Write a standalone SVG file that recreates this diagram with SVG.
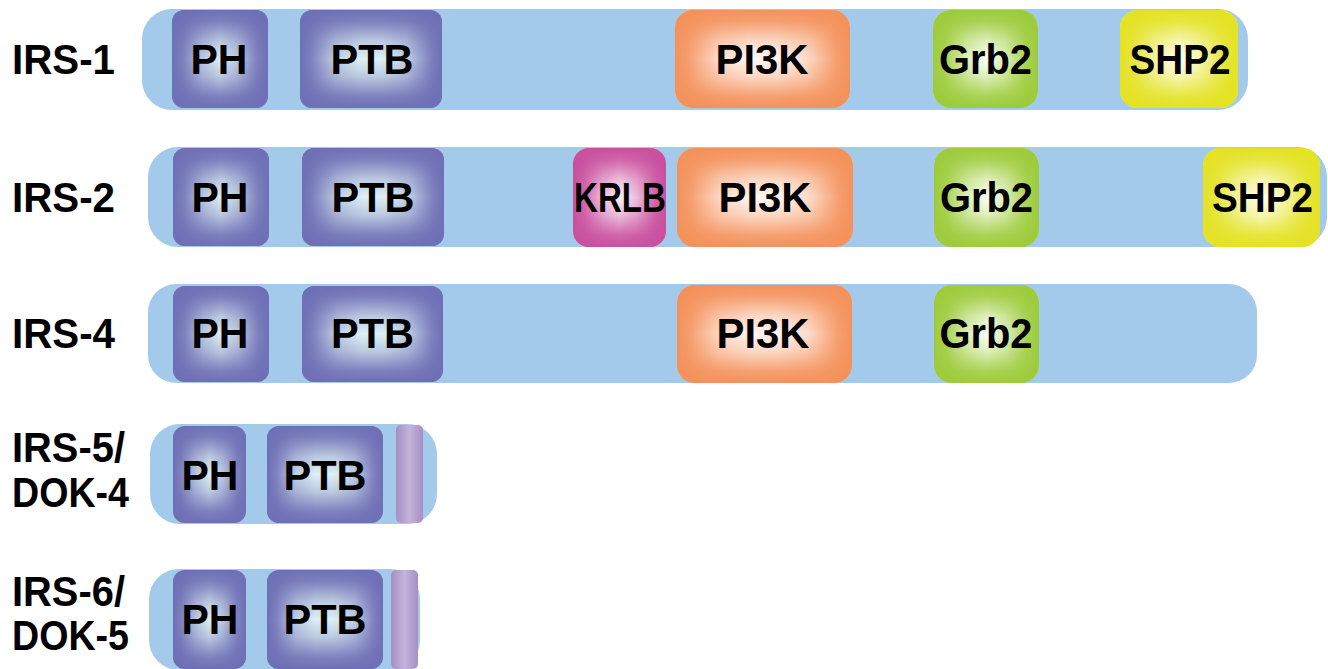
<svg xmlns="http://www.w3.org/2000/svg" width="1328" height="669" viewBox="0 0 1328 669">
<defs>
<linearGradient id="puH"><stop offset="0" stop-color="#6e6fb5"/><stop offset="0.12" stop-color="#6e6fb5" stop-opacity="0.85"/><stop offset="0.32" stop-color="#6e6fb5" stop-opacity="0.3"/><stop offset="0.5" stop-color="#6e6fb5" stop-opacity="0"/><stop offset="0.68" stop-color="#6e6fb5" stop-opacity="0.3"/><stop offset="0.88" stop-color="#6e6fb5" stop-opacity="0.85"/><stop offset="1" stop-color="#6e6fb5"/></linearGradient>
<linearGradient id="puW"><stop offset="0" stop-color="#6e6fb5"/><stop offset="0.08" stop-color="#6e6fb5" stop-opacity="0.85"/><stop offset="0.25" stop-color="#6e6fb5" stop-opacity="0.25"/><stop offset="0.42" stop-color="#6e6fb5" stop-opacity="0"/><stop offset="0.58" stop-color="#6e6fb5" stop-opacity="0"/><stop offset="0.75" stop-color="#6e6fb5" stop-opacity="0.25"/><stop offset="0.92" stop-color="#6e6fb5" stop-opacity="0.85"/><stop offset="1" stop-color="#6e6fb5"/></linearGradient>
<linearGradient id="puV" x2="0" y2="1"><stop offset="0" stop-color="#6e6fb5"/><stop offset="0.12" stop-color="#6e6fb5" stop-opacity="0.85"/><stop offset="0.32" stop-color="#6e6fb5" stop-opacity="0.3"/><stop offset="0.5" stop-color="#6e6fb5" stop-opacity="0"/><stop offset="0.68" stop-color="#6e6fb5" stop-opacity="0.3"/><stop offset="0.88" stop-color="#6e6fb5" stop-opacity="0.85"/><stop offset="1" stop-color="#6e6fb5"/></linearGradient>

<linearGradient id="orW"><stop offset="0" stop-color="#f4915a"/><stop offset="0.08" stop-color="#f4915a" stop-opacity="0.85"/><stop offset="0.25" stop-color="#f4915a" stop-opacity="0.25"/><stop offset="0.42" stop-color="#f4915a" stop-opacity="0"/><stop offset="0.58" stop-color="#f4915a" stop-opacity="0"/><stop offset="0.75" stop-color="#f4915a" stop-opacity="0.25"/><stop offset="0.92" stop-color="#f4915a" stop-opacity="0.85"/><stop offset="1" stop-color="#f4915a"/></linearGradient>
<linearGradient id="orV" x2="0" y2="1"><stop offset="0" stop-color="#f4915a"/><stop offset="0.12" stop-color="#f4915a" stop-opacity="0.85"/><stop offset="0.32" stop-color="#f4915a" stop-opacity="0.3"/><stop offset="0.5" stop-color="#f4915a" stop-opacity="0"/><stop offset="0.68" stop-color="#f4915a" stop-opacity="0.3"/><stop offset="0.88" stop-color="#f4915a" stop-opacity="0.85"/><stop offset="1" stop-color="#f4915a"/></linearGradient>

<linearGradient id="grH"><stop offset="0" stop-color="#9dcb3b"/><stop offset="0.12" stop-color="#9dcb3b" stop-opacity="0.85"/><stop offset="0.32" stop-color="#9dcb3b" stop-opacity="0.3"/><stop offset="0.5" stop-color="#9dcb3b" stop-opacity="0"/><stop offset="0.68" stop-color="#9dcb3b" stop-opacity="0.3"/><stop offset="0.88" stop-color="#9dcb3b" stop-opacity="0.85"/><stop offset="1" stop-color="#9dcb3b"/></linearGradient>
<linearGradient id="grV" x2="0" y2="1"><stop offset="0" stop-color="#9dcb3b"/><stop offset="0.12" stop-color="#9dcb3b" stop-opacity="0.85"/><stop offset="0.32" stop-color="#9dcb3b" stop-opacity="0.3"/><stop offset="0.5" stop-color="#9dcb3b" stop-opacity="0"/><stop offset="0.68" stop-color="#9dcb3b" stop-opacity="0.3"/><stop offset="0.88" stop-color="#9dcb3b" stop-opacity="0.85"/><stop offset="1" stop-color="#9dcb3b"/></linearGradient>

<linearGradient id="yeH"><stop offset="0" stop-color="#e3e222"/><stop offset="0.12" stop-color="#e3e222" stop-opacity="0.85"/><stop offset="0.32" stop-color="#e3e222" stop-opacity="0.3"/><stop offset="0.5" stop-color="#e3e222" stop-opacity="0"/><stop offset="0.68" stop-color="#e3e222" stop-opacity="0.3"/><stop offset="0.88" stop-color="#e3e222" stop-opacity="0.85"/><stop offset="1" stop-color="#e3e222"/></linearGradient>
<linearGradient id="yeV" x2="0" y2="1"><stop offset="0" stop-color="#e3e222"/><stop offset="0.12" stop-color="#e3e222" stop-opacity="0.85"/><stop offset="0.32" stop-color="#e3e222" stop-opacity="0.3"/><stop offset="0.5" stop-color="#e3e222" stop-opacity="0"/><stop offset="0.68" stop-color="#e3e222" stop-opacity="0.3"/><stop offset="0.88" stop-color="#e3e222" stop-opacity="0.85"/><stop offset="1" stop-color="#e3e222"/></linearGradient>

<linearGradient id="maH"><stop offset="0" stop-color="#c94f9f"/><stop offset="0.12" stop-color="#c94f9f" stop-opacity="0.85"/><stop offset="0.32" stop-color="#c94f9f" stop-opacity="0.3"/><stop offset="0.5" stop-color="#c94f9f" stop-opacity="0"/><stop offset="0.68" stop-color="#c94f9f" stop-opacity="0.3"/><stop offset="0.88" stop-color="#c94f9f" stop-opacity="0.85"/><stop offset="1" stop-color="#c94f9f"/></linearGradient>
<linearGradient id="maV" x2="0" y2="1"><stop offset="0" stop-color="#c94f9f"/><stop offset="0.12" stop-color="#c94f9f" stop-opacity="0.85"/><stop offset="0.32" stop-color="#c94f9f" stop-opacity="0.3"/><stop offset="0.5" stop-color="#c94f9f" stop-opacity="0"/><stop offset="0.68" stop-color="#c94f9f" stop-opacity="0.3"/><stop offset="0.88" stop-color="#c94f9f" stop-opacity="0.85"/><stop offset="1" stop-color="#c94f9f"/></linearGradient>

<linearGradient id="laH"><stop offset="0" stop-color="#a68fc3"/><stop offset="0.5" stop-color="#c4b3dc"/><stop offset="1" stop-color="#a68fc3"/></linearGradient>
</defs>
<style>
.bar{fill:#a3c9eb}
.lbl{font-family:"Liberation Sans",Arial,sans-serif;font-weight:bold;font-size:43px;fill:#000}
.dt{font-family:"Liberation Sans",Arial,sans-serif;font-weight:bold;font-size:43px;fill:#000;text-anchor:middle}
.pu{fill:#ddf0f3}
.or{fill:#fff6f2}
.gr{fill:#fbfff5}
.ye{fill:#fffff4}
.ma{fill:#fbf0f6}
</style>

<g id="labels">
<text class="lbl" x="12" y="74" textLength="103" lengthAdjust="spacingAndGlyphs">IRS-1</text>
<text class="lbl" x="12" y="212" textLength="103" lengthAdjust="spacingAndGlyphs">IRS-2</text>
<text class="lbl" x="12" y="348" textLength="103" lengthAdjust="spacingAndGlyphs">IRS-4</text>
<text class="lbl" x="12" y="462" textLength="113" lengthAdjust="spacingAndGlyphs">IRS-5/</text>
<text class="lbl" x="12" y="507" textLength="117" lengthAdjust="spacingAndGlyphs">DOK-4</text>
<text class="lbl" x="12" y="606" textLength="113" lengthAdjust="spacingAndGlyphs">IRS-6/</text>
<text class="lbl" x="12" y="650" textLength="117" lengthAdjust="spacingAndGlyphs">DOK-5</text>
</g>

<g id="connectors"></g>

<!-- Row 1: IRS-1 -->
<g id="irs1">
<rect class="bar" x="142" y="9" width="1106" height="101" rx="30"/>
<g id="irs1-ph"><rect class="pu" x="172" y="10" width="96" height="98" rx="12"/><rect fill="url(#puH)" x="172" y="10" width="96" height="98" rx="12"/><rect fill="url(#puV)" x="172" y="10" width="96" height="98" rx="12"/><text class="dt" x="219" y="74" textLength="57" lengthAdjust="spacingAndGlyphs">PH</text></g>
<g id="irs1-ptb"><rect class="pu" x="300" y="10" width="142" height="98" rx="12"/><rect fill="url(#puW)" x="300" y="10" width="142" height="98" rx="12"/><rect fill="url(#puV)" x="300" y="10" width="142" height="98" rx="12"/><text class="dt" x="372" y="74" textLength="83" lengthAdjust="spacingAndGlyphs">PTB</text></g>
<g id="irs1-pi3k"><rect class="or" x="675" y="10" width="175" height="98" rx="18"/><rect fill="url(#orW)" x="675" y="10" width="175" height="98" rx="18"/><rect fill="url(#orV)" x="675" y="10" width="175" height="98" rx="18"/><text class="dt" x="762" y="74" textLength="93" lengthAdjust="spacingAndGlyphs">PI3K</text></g>
<g id="irs1-grb2"><rect class="gr" x="933" y="10" width="105" height="98" rx="18"/><rect fill="url(#grH)" x="933" y="10" width="105" height="98" rx="18"/><rect fill="url(#grV)" x="933" y="10" width="105" height="98" rx="18"/><text class="dt" x="985.5" y="74" textLength="93" lengthAdjust="spacingAndGlyphs">Grb2</text></g>
<g id="irs1-shp2"><rect class="ye" x="1120" y="10" width="118" height="98" rx="18"/><rect fill="url(#yeH)" x="1120" y="10" width="118" height="98" rx="18"/><rect fill="url(#yeV)" x="1120" y="10" width="118" height="98" rx="18"/><text class="dt" x="1180" y="74" textLength="101" lengthAdjust="spacingAndGlyphs">SHP2</text></g>
</g>

<!-- Row 2: IRS-2 -->
<g id="irs2">
<rect class="bar" x="148" y="147" width="1179" height="100" rx="30"/>
<g id="irs2-ph"><rect class="pu" x="173" y="148" width="96" height="98" rx="12"/><rect fill="url(#puH)" x="173" y="148" width="96" height="98" rx="12"/><rect fill="url(#puV)" x="173" y="148" width="96" height="98" rx="12"/><text class="dt" x="220" y="212" textLength="57" lengthAdjust="spacingAndGlyphs">PH</text></g>
<g id="irs2-ptb"><rect class="pu" x="302" y="148" width="142" height="98" rx="12"/><rect fill="url(#puW)" x="302" y="148" width="142" height="98" rx="12"/><rect fill="url(#puV)" x="302" y="148" width="142" height="98" rx="12"/><text class="dt" x="373" y="212" textLength="83" lengthAdjust="spacingAndGlyphs">PTB</text></g>
<g id="irs2-krlb"><rect class="ma" x="573" y="148" width="93" height="99" rx="16"/><rect fill="url(#maH)" x="573" y="148" width="93" height="99" rx="16"/><rect fill="url(#maV)" x="573" y="148" width="93" height="99" rx="16"/><text class="dt" x="620" y="212" textLength="92" lengthAdjust="spacingAndGlyphs">KRLB</text></g>
<g id="irs2-pi3k"><rect class="or" x="677" y="148" width="176" height="99" rx="18"/><rect fill="url(#orW)" x="677" y="148" width="176" height="99" rx="18"/><rect fill="url(#orV)" x="677" y="148" width="176" height="99" rx="18"/><text class="dt" x="765" y="212" textLength="93" lengthAdjust="spacingAndGlyphs">PI3K</text></g>
<g id="irs2-grb2"><rect class="gr" x="934" y="148" width="105" height="99" rx="18"/><rect fill="url(#grH)" x="934" y="148" width="105" height="99" rx="18"/><rect fill="url(#grV)" x="934" y="148" width="105" height="99" rx="18"/><text class="dt" x="986.5" y="212" textLength="93" lengthAdjust="spacingAndGlyphs">Grb2</text></g>
<g id="irs2-shp2"><rect class="ye" x="1203" y="148" width="117" height="99" rx="18"/><rect fill="url(#yeH)" x="1203" y="148" width="117" height="99" rx="18"/><rect fill="url(#yeV)" x="1203" y="148" width="117" height="99" rx="18"/><text class="dt" x="1262.5" y="212" textLength="101" lengthAdjust="spacingAndGlyphs">SHP2</text></g>
</g>

<!-- Row 3: IRS-4 -->
<g id="irs4">
<rect class="bar" x="148" y="284" width="1109" height="99" rx="28"/>
<g id="irs4-ph"><rect class="pu" x="173" y="286" width="96" height="96" rx="12"/><rect fill="url(#puH)" x="173" y="286" width="96" height="96" rx="12"/><rect fill="url(#puV)" x="173" y="286" width="96" height="96" rx="12"/><text class="dt" x="220" y="348" textLength="57" lengthAdjust="spacingAndGlyphs">PH</text></g>
<g id="irs4-ptb"><rect class="pu" x="302" y="286" width="141" height="96" rx="12"/><rect fill="url(#puW)" x="302" y="286" width="141" height="96" rx="12"/><rect fill="url(#puV)" x="302" y="286" width="141" height="96" rx="12"/><text class="dt" x="372.5" y="348" textLength="83" lengthAdjust="spacingAndGlyphs">PTB</text></g>
<g id="irs4-pi3k"><rect class="or" x="677" y="285" width="175" height="98" rx="18"/><rect fill="url(#orW)" x="677" y="285" width="175" height="98" rx="18"/><rect fill="url(#orV)" x="677" y="285" width="175" height="98" rx="18"/><text class="dt" x="763" y="348" textLength="93" lengthAdjust="spacingAndGlyphs">PI3K</text></g>
<g id="irs4-grb2"><rect class="gr" x="934" y="285" width="105" height="98" rx="18"/><rect fill="url(#grH)" x="934" y="285" width="105" height="98" rx="18"/><rect fill="url(#grV)" x="934" y="285" width="105" height="98" rx="18"/><text class="dt" x="986" y="348" textLength="93" lengthAdjust="spacingAndGlyphs">Grb2</text></g>
</g>

<!-- Row 4: IRS-5/DOK-4 -->
<g id="irs5">
<rect class="bar" x="150" y="424" width="287" height="100" rx="30"/>
<g id="irs5-ph"><rect class="pu" x="173" y="426" width="73" height="97" rx="12"/><rect fill="url(#puH)" x="173" y="426" width="73" height="97" rx="12"/><rect fill="url(#puV)" x="173" y="426" width="73" height="97" rx="12"/><text class="dt" x="210" y="490" textLength="57" lengthAdjust="spacingAndGlyphs">PH</text></g>
<g id="irs5-ptb"><rect class="pu" x="267" y="426" width="116" height="97" rx="12"/><rect fill="url(#puW)" x="267" y="426" width="116" height="97" rx="12"/><rect fill="url(#puV)" x="267" y="426" width="116" height="97" rx="12"/><text class="dt" x="325" y="490" textLength="83" lengthAdjust="spacingAndGlyphs">PTB</text></g>
<g id="irs5-tail"><rect fill="url(#laH)" x="396" y="425" width="27" height="98" rx="5"/></g>
</g>

<!-- Row 5: IRS-6/DOK-5 -->
<g id="irs6">
<rect class="bar" x="149" y="569" width="271" height="101" rx="30"/>
<g id="irs6-ph"><rect class="pu" x="173" y="570" width="73" height="99" rx="12"/><rect fill="url(#puH)" x="173" y="570" width="73" height="99" rx="12"/><rect fill="url(#puV)" x="173" y="570" width="73" height="99" rx="12"/><text class="dt" x="210" y="634" textLength="57" lengthAdjust="spacingAndGlyphs">PH</text></g>
<g id="irs6-ptb"><rect class="pu" x="267" y="570" width="116" height="99" rx="12"/><rect fill="url(#puW)" x="267" y="570" width="116" height="99" rx="12"/><rect fill="url(#puV)" x="267" y="570" width="116" height="99" rx="12"/><text class="dt" x="325" y="634" textLength="83" lengthAdjust="spacingAndGlyphs">PTB</text></g>
<g id="irs6-tail"><rect fill="url(#laH)" x="391" y="570" width="27" height="99" rx="5"/></g>
</g>
</svg>
